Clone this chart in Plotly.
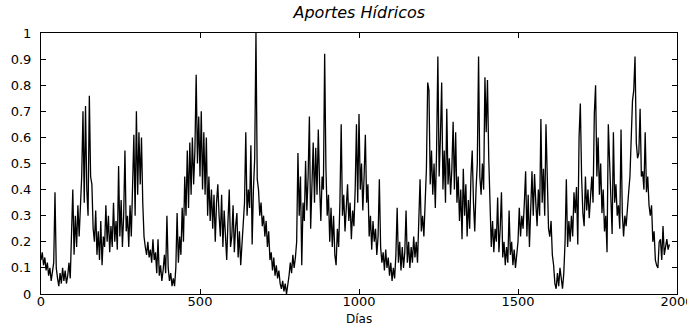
import numpy as np
import plotly.graph_objects as go

# Daily water inflow (normalised), sampled every 4 days
inflow = [
    # days 0-96
    0.13, 0.16, 0.11, 0.14, 0.09, 0.12, 0.07, 0.10, 0.05, 0.09, 0.12, 0.39, 0.10,
    0.06, 0.03, 0.08, 0.04, 0.10, 0.05, 0.09, 0.04, 0.07, 0.12, 0.06, 0.20,
    # days 100-196
    0.40, 0.15, 0.30, 0.18, 0.34, 0.22, 0.36, 0.45, 0.70, 0.35, 0.72, 0.40, 0.30,
    0.76, 0.45, 0.42, 0.25, 0.20, 0.32, 0.15, 0.24, 0.13, 0.28, 0.11, 0.22,
    # days 200-296
    0.18, 0.34, 0.20, 0.30, 0.16, 0.26, 0.18, 0.35, 0.20, 0.28, 0.17, 0.49, 0.22,
    0.36, 0.18, 0.30, 0.55, 0.24, 0.30, 0.18, 0.34, 0.22, 0.44, 0.61, 0.30,
    # days 300-396
    0.70, 0.38, 0.62, 0.42, 0.60, 0.35, 0.22, 0.18, 0.15, 0.20, 0.14, 0.17, 0.12,
    0.21, 0.13, 0.16, 0.08, 0.21, 0.07, 0.11, 0.05, 0.09, 0.15, 0.08, 0.30,
    # days 400-496
    0.10, 0.05, 0.08, 0.03, 0.06, 0.03, 0.10, 0.31, 0.12, 0.22, 0.15, 0.33, 0.20,
    0.45, 0.30, 0.55, 0.33, 0.58, 0.38, 0.60, 0.42, 0.55, 0.84, 0.50, 0.68,
    # days 500-596
    0.45, 0.70, 0.40, 0.62, 0.38, 0.60, 0.30, 0.45, 0.28, 0.40, 0.25, 0.38, 0.20,
    0.35, 0.42, 0.30, 0.22, 0.38, 0.18, 0.32, 0.20, 0.13, 0.28, 0.40, 0.18,
    # days 600-696
    0.22, 0.34, 0.16, 0.26, 0.31, 0.14, 0.24, 0.11, 0.20, 0.28, 0.35, 0.62, 0.30,
    0.40, 0.33, 0.57, 0.19, 0.40, 0.52, 1.00, 0.44, 0.40, 0.30, 0.35, 0.26,
    # days 700-796
    0.30, 0.22, 0.28, 0.18, 0.24, 0.13, 0.16, 0.09, 0.14, 0.07, 0.11, 0.06, 0.09,
    0.04, 0.02, 0.05, 0.01, 0.04, 0.00, 0.03, 0.07, 0.12, 0.08, 0.15, 0.10,
    # days 800-896
    0.14, 0.20, 0.54, 0.30, 0.45, 0.11, 0.35, 0.28, 0.51, 0.32, 0.45, 0.68, 0.25,
    0.40, 0.58, 0.35, 0.56, 0.38, 0.63, 0.42, 0.28, 0.45, 0.40, 0.92, 0.48,
    # days 900-996
    0.30, 0.38, 0.20, 0.33, 0.18, 0.30, 0.15, 0.11, 0.25, 0.18, 0.35, 0.65, 0.30,
    0.38, 0.24, 0.36, 0.42, 0.28, 0.35, 0.21, 0.32, 0.26, 0.40, 0.65, 0.35,
    # days 1000-1096
    0.69, 0.40, 0.50, 0.32, 0.45, 0.61, 0.35, 0.42, 0.22, 0.30, 0.17, 0.28, 0.20,
    0.25, 0.15, 0.22, 0.44, 0.18, 0.12, 0.16, 0.09, 0.17, 0.10, 0.14, 0.07,
    # days 1100-1196
    0.12, 0.05, 0.10, 0.06, 0.15, 0.33, 0.12, 0.20, 0.09, 0.18, 0.10, 0.16, 0.32,
    0.12, 0.20, 0.10, 0.18, 0.12, 0.22, 0.14, 0.20, 0.12, 0.25, 0.44, 0.24,
    # days 1200-1296
    0.30, 0.22, 0.35, 0.48, 0.81, 0.78, 0.42, 0.55, 0.38, 0.50, 0.33, 0.55, 0.91,
    0.45, 0.60, 0.81, 0.40, 0.55, 0.35, 0.71, 0.42, 0.52, 0.38, 0.48, 0.66,
    # days 1300-1396
    0.40, 0.62, 0.35, 0.45, 0.28, 0.40, 0.21, 0.48, 0.30, 0.42, 0.22, 0.36, 0.25,
    0.45, 0.55, 0.35, 0.24, 0.40, 0.50, 0.91, 0.45, 0.38, 0.50, 0.40, 0.83,
    # days 1400-1496
    0.62, 0.82, 0.52, 0.29, 0.18, 0.28, 0.16, 0.25, 0.20, 0.37, 0.16, 0.25, 0.39,
    0.14, 0.20, 0.11, 0.18, 0.12, 0.32, 0.15, 0.20, 0.11, 0.17, 0.10, 0.16,
    # days 1500-1596
    0.20, 0.33, 0.22, 0.30, 0.25, 0.35, 0.47, 0.22, 0.38, 0.18, 0.30, 0.47, 0.30,
    0.46, 0.35, 0.26, 0.40, 0.30, 0.67, 0.35, 0.48, 0.30, 0.65, 0.37, 0.25,
    # days 1600-1696
    0.22, 0.28, 0.15, 0.11, 0.04, 0.02, 0.08, 0.03, 0.10, 0.06, 0.02, 0.08, 0.20,
    0.44, 0.18, 0.28, 0.20, 0.30, 0.22, 0.39, 0.31, 0.41, 0.19, 0.60, 0.73,
    # days 1700-1796
    0.45, 0.31, 0.26, 0.45, 0.32, 0.40, 0.29, 0.38, 0.45, 0.35, 0.69, 0.80, 0.45,
    0.60, 0.38, 0.50, 0.31, 0.40, 0.24, 0.30, 0.16, 0.65, 0.48, 0.30, 0.23,
    # days 1800-1896
    0.62, 0.35, 0.42, 0.30, 0.34, 0.25, 0.63, 0.31, 0.22, 0.30, 0.26, 0.35, 0.39,
    0.45, 0.60, 0.74, 0.78, 0.91, 0.58, 0.52, 0.54, 0.71, 0.45, 0.47, 0.40,
    # days 1900-1976
    0.62, 0.39, 0.45, 0.34, 0.30, 0.34, 0.20, 0.24, 0.13, 0.11, 0.10, 0.20, 0.21,
    0.13, 0.26, 0.15, 0.19, 0.21, 0.17, 0.19,
]
step_days = 4
days = step_days * np.arange(len(inflow))

x_ticks = [0, 500, 1000, 1500, 2000]
y_ticks = [0, 0.1, 0.2, 0.3, 0.4, 0.5, 0.6, 0.7, 0.8, 0.9, 1]

font_family = "DejaVu Sans"

fig = go.Figure(
    go.Scatter(
        x=days,
        y=inflow,
        mode="lines",
        line=dict(color="black", width=1.3),
        hoverinfo="skip",
    )
)

axis_common = dict(
    showgrid=False,
    zeroline=False,
    showline=True,
    linecolor="black",
    linewidth=1,
    mirror="ticks",
    ticks="inside",
    ticklen=5,
    tickcolor="black",
    automargin=False,
    ticklabeloverflow="allow",
    tickfont=dict(family=font_family, size=13, color="black"),
)

fig.update_layout(
    width=687,
    height=325,
    margin=dict(l=41, r=10, t=33, b=31),
    paper_bgcolor="white",
    plot_bgcolor="white",
    showlegend=False,
    title=dict(
        text="<i>Aportes Hídricos</i>",
        x=0.523,
        xanchor="center",
        y=0.963,
        yanchor="middle",
        font=dict(family=font_family, size=16, color="black"),
    ),
    xaxis=dict(
        range=[0, 2000],
        tickvals=x_ticks,
        ticklabelstandoff=-5,
        **axis_common,
    ),
    yaxis=dict(
        range=[0, 1],
        tickvals=y_ticks,
        ticklabelstandoff=6,
        **axis_common,
    ),
    annotations=[
        dict(
            text="Días",
            xref="paper",
            yref="paper",
            x=0.5,
            y=-0.094,
            xanchor="center",
            yanchor="middle",
            showarrow=False,
            font=dict(family=font_family, size=12, color="black"),
        )
    ],
)

fig.write_html("out.html")
